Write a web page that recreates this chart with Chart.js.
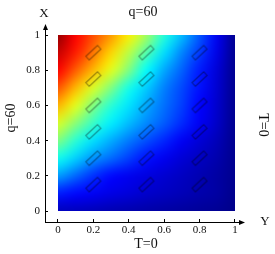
<!DOCTYPE html>
<html>
<head>
<meta charset="utf-8">
<script src="https://cdn.jsdelivr.net/npm/chart.js@4.4.1/dist/chart.umd.min.js"></script>
<style>
  html, body { margin: 0; padding: 0; background: #fff; }
  #wrap { width: 275px; height: 254px; }
</style>
</head>
<body>
<div id="wrap"><canvas id="chart" width="275" height="254"></canvas></div>
<script>
// sample grid of the colour field (rows from y=1 down to y=0)
const xGrid = [0, 0.1, 0.2, 0.3, 0.4, 0.5, 0.6, 0.7, 0.8, 0.9, 1];
const yGrid = [1, 0.9, 0.8, 0.7, 0.6, 0.5, 0.4, 0.3, 0.2, 0.1, 0];
const field = [
  [0.98, 0.875, 0.80, 0.725, 0.64, 0.535, 0.41, 0.31, 0.21, 0.11, 0.015],
  [0.93, 0.85, 0.76, 0.665, 0.56, 0.455, 0.345, 0.255, 0.18, 0.10, 0.015],
  [0.875, 0.785, 0.695, 0.60, 0.50, 0.375, 0.29, 0.22, 0.15, 0.085, 0.015],
  [0.795, 0.695, 0.59, 0.50, 0.395, 0.325, 0.25, 0.195, 0.14, 0.08, 0.015],
  [0.70, 0.60, 0.50, 0.415, 0.35, 0.29, 0.235, 0.185, 0.125, 0.075, 0.015],
  [0.59, 0.51, 0.43, 0.36, 0.31, 0.26, 0.215, 0.165, 0.115, 0.07, 0.015],
  [0.50, 0.415, 0.345, 0.295, 0.245, 0.20, 0.16, 0.115, 0.085, 0.055, 0.015],
  [0.39, 0.33, 0.27, 0.23, 0.185, 0.14, 0.11, 0.085, 0.065, 0.045, 0.015],
  [0.28, 0.225, 0.17, 0.13, 0.11, 0.095, 0.08, 0.065, 0.05, 0.035, 0.015],
  [0.15, 0.13, 0.115, 0.10, 0.09, 0.075, 0.065, 0.055, 0.045, 0.035, 0.012],
  [0.06, 0.06, 0.055, 0.05, 0.045, 0.04, 0.035, 0.03, 0.025, 0.02, 0.01]
];
// glyph positions
const glyphX = [0.2, 0.5, 0.8];
const glyphY = [0.15, 0.3, 0.45, 0.6, 0.75, 0.9];
// axis ticks
const tickValues = [0, 0.2, 0.4, 0.6, 0.8, 1];
const tickLabels = ['0', '0.2', '0.4', '0.6', '0.8', '1'];

const serif = '"Liberation Serif", "DejaVu Serif", serif';

function jet(v) {
  const c = t => Math.max(0, Math.min(1, t));
  const r = c(Math.min(4 * v - 1.5, -4 * v + 4.5));
  const g = c(Math.min(4 * v - 0.5, -4 * v + 3.5));
  const b = c(Math.min(4 * v + 0.5, -4 * v + 2.5));
  return [r * 255, g * 255, b * 255];
}

// rotated outlined rectangle used as point style
const glyph = document.createElement('canvas');
glyph.width = 22;
glyph.height = 22;
const gc = glyph.getContext('2d');
gc.translate(11, 11);
gc.rotate(-Math.PI / 4.2);
gc.strokeStyle = 'rgba(0,0,0,0.42)';
gc.lineWidth = 1;
gc.strokeRect(-8, -2.5, 16, 5);

const heatmap = {
  id: 'heatmap',
  beforeDatasetsDraw(chart) {
    const { ctx, scales: { x, y } } = chart;
    const nx = xGrid.length, ny = yGrid.length;
    const img = document.createElement('canvas');
    img.width = nx;
    img.height = ny;
    const ic = img.getContext('2d');
    const pix = ic.createImageData(nx, ny);
    field.forEach((row, j) => row.forEach((v, i) => {
      const [r, g, b] = jet(v);
      const k = (j * nx + i) * 4;
      pix.data[k] = r;
      pix.data[k + 1] = g;
      pix.data[k + 2] = b;
      pix.data[k + 3] = 255;
    }));
    ic.putImageData(pix, 0, 0);

    const hx = (xGrid[1] - xGrid[0]) / 2;
    const hy = (yGrid[0] - yGrid[1]) / 2;
    const left = x.getPixelForValue(xGrid[0]);
    const right = x.getPixelForValue(xGrid[nx - 1]);
    const top = y.getPixelForValue(yGrid[0]);
    const bottom = y.getPixelForValue(yGrid[ny - 1]);
    const x0 = x.getPixelForValue(xGrid[0] - hx);
    const x1 = x.getPixelForValue(xGrid[nx - 1] + hx);
    const y0 = y.getPixelForValue(yGrid[0] + hy);
    const y1 = y.getPixelForValue(yGrid[ny - 1] - hy);

    ctx.save();
    ctx.beginPath();
    ctx.rect(left, top, right - left, bottom - top);
    ctx.clip();
    ctx.imageSmoothingEnabled = true;
    ctx.imageSmoothingQuality = 'high';
    ctx.drawImage(img, x0, y0, x1 - x0, y1 - y0);
    ctx.restore();
  }
};

const decorations = {
  id: 'decorations',
  afterDraw(chart) {
    const { ctx, chartArea: a } = chart;
    ctx.save();
    ctx.fillStyle = '#000';
    // arrow heads at the axis ends
    ctx.beginPath();
    ctx.moveTo(a.left + 0.5, a.top - 4);
    ctx.lineTo(a.left - 2, a.top + 2);
    ctx.lineTo(a.left + 3, a.top + 2);
    ctx.closePath();
    ctx.fill();
    ctx.beginPath();
    ctx.moveTo(a.right + 3, a.bottom + 0.5);
    ctx.lineTo(a.right - 3, a.bottom - 2);
    ctx.lineTo(a.right - 3, a.bottom + 3);
    ctx.closePath();
    ctx.fill();

    ctx.fillStyle = '#111';
    ctx.textAlign = 'center';
    ctx.textBaseline = 'middle';
    ctx.font = '14px ' + serif;
    ctx.fillText('q=60', 143, 12);
    ctx.fillText('T=0', 146, 244);
    ctx.font = '13px ' + serif;
    ctx.fillText('X', 44, 14);
    ctx.fillText('Y', 265, 222);

    ctx.font = '14px ' + serif;
    ctx.save();
    ctx.translate(11, 118);
    ctx.rotate(-Math.PI / 2);
    ctx.fillText('q=60', 0, 0);
    ctx.restore();
    ctx.save();
    ctx.translate(263, 125);
    ctx.rotate(Math.PI / 2);
    ctx.fillText('T=0', 0, 0);
    ctx.restore();
    ctx.restore();
  }
};

const setTicks = scale => {
  scale.ticks = tickValues.map(v => ({ value: v }));
};
const tickLabel = value => tickLabels[tickValues.indexOf(value)];

const axisGrid = { drawOnChartArea: false, drawTicks: true, tickLength: -3, color: '#000', lineWidth: 1 };
const axisBorder = { display: true, color: '#000', width: 1 };

new Chart(document.getElementById('chart'), {
  type: 'scatter',
  data: {
    datasets: [{
      data: glyphY.flatMap(yv => glyphX.map(xv => ({ x: xv, y: yv }))),
      pointStyle: glyph,
      pointRadius: 5
    }]
  },
  options: {
    responsive: false,
    animation: false,
    events: [],
    layout: { padding: { top: 28, right: 33, left: 0, bottom: 0 } },
    plugins: {
      legend: { display: false },
      tooltip: { enabled: false }
    },
    scales: {
      x: {
        type: 'linear',
        min: -0.073,
        max: 1.04,
        afterBuildTicks: setTicks,
        afterFit(scale) { scale.height = 32; },
        grid: axisGrid,
        border: axisBorder,
        ticks: {
          callback: tickLabel,
          autoSkip: false,
          maxRotation: 0,
          padding: 4.5,
          color: '#111',
          font: { family: serif, size: 11 }
        }
      },
      y: {
        type: 'linear',
        min: -0.0625,
        max: 1.04,
        afterBuildTicks: setTicks,
        afterFit(scale) { scale.width = 45; },
        grid: axisGrid,
        border: axisBorder,
        ticks: {
          callback: tickLabel,
          autoSkip: false,
          padding: 8,
          color: '#111',
          font: { family: serif, size: 11 }
        }
      }
    }
  },
  plugins: [heatmap, decorations]
});
</script>
</body>
</html>
